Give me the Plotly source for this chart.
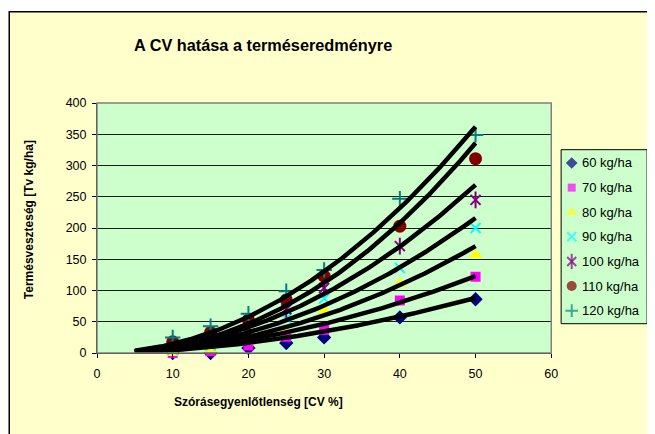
import numpy as np
import plotly.graph_objects as go

# ---------------- data ----------------
cv_values = [10, 15, 20, 25, 30, 40, 50]
series_names = ["60 kg/ha", "70 kg/ha", "80 kg/ha", "90 kg/ha", "100 kg/ha", "110 kg/ha", "120 kg/ha"]
loss_60 = [0, 0, 8, 16, 25, 57, 86]
loss_70 = [0, 3, 12, 26, 37, 84, 122]
loss_80 = [0, 6, 18, 36, 68, 111, 157]
loss_90 = [5, 12, 28, 55, 87, 136, 200]
loss_100 = [12, 22, 40, 70, 104, 171, 245]
loss_110 = [18, 33, 53, 85, 123, 203, 311]
loss_120 = [25, 43, 63, 99, 133, 247, 349]
all_losses = [loss_60, loss_70, loss_80, loss_90, loss_100, loss_110, loss_120]

# power trendlines y = value_at_50 * (x/50)^exponent, drawn from CV 5 to 50
trend_value_at_50 = [88, 123, 171, 216, 269, 336, 362]
trend_exponent = [1.85, 1.9, 2.05, 2.05, 2.05, 2.15, 2.0]
trend_start, trend_end = 5, 50

x_ticks = [0, 10, 20, 30, 40, 50, 60]
y_ticks = [0, 50, 100, 150, 200, 250, 300, 350, 400]

# ---------------- styles ----------------
colors = ["#000080", "#FF00FF", "#FFFF00", "#00FFFF", "#800080", "#800000", "#008080"]
symbols = ["diamond", "square", "triangle-up", "x-thin-open", "x-thin-open", "circle", "cross-thin-open"]
extra_symbols = [None, None, None, None, "line-ns-open", None, None]
sizes = [11, 10, 12, 10, 10, 13, 11]
line_w = [0, 0, 0, 2, 2, 0, 2]
leg_sizes = [9, 8, 10, 9, 9, 10, 9]

FONT = "Liberation Sans, Arial, sans-serif"
W, H = 655, 434
OFF = 8  # page offset of the figure (body margin)
ML, MR = 89.3, 0
MT = 95.3
MB = H - (353.3 - OFF)
PW = W - ML - MR
PH = H - MT - MB


def xp(px):  # page pixel x -> paper
    return (px - OFF - ML) / PW


def yp(py):  # page pixel y -> paper
    return (H - MB - (py - OFF)) / PH


fig = go.Figure()

for i, name in enumerate(series_names):
    fig.add_trace(go.Scatter(
        x=cv_values, y=all_losses[i], mode="markers", name=name, showlegend=False,
        marker=dict(symbol=symbols[i], size=sizes[i], color=colors[i],
                    line=dict(color=colors[i], width=line_w[i])),
        xaxis="x", yaxis="y", cliponaxis=False,
    ))
    if extra_symbols[i]:
        fig.add_trace(go.Scatter(
            x=cv_values, y=all_losses[i], mode="markers", showlegend=False, hoverinfo="skip",
            marker=dict(symbol=extra_symbols[i], size=sizes[i] + 2, color=colors[i],
                        line=dict(color=colors[i], width=line_w[i])),
            xaxis="x", yaxis="y", cliponaxis=False,
        ))

xs = np.linspace(trend_start, trend_end, 200)
for i, name in enumerate(series_names):
    ys = trend_value_at_50[i] * (xs / 50.0) ** trend_exponent[i]
    fig.add_trace(go.Scatter(
        x=xs, y=ys, mode="lines", showlegend=False, hoverinfo="skip",
        line=dict(color="black", width=4.5),
        xaxis="x", yaxis="y",
    ))

# custom legend markers
rows = list(range(len(series_names)))
fig.add_trace(go.Scatter(
    x=[10.7] * len(rows), y=rows, mode="markers", showlegend=False, hoverinfo="skip",
    marker=dict(symbol=symbols, size=leg_sizes, color=colors,
                line=dict(color=colors, width=[w if w == 0 else 2 for w in line_w])),
    xaxis="x2", yaxis="y2", cliponaxis=False,
))
extra_rows = [r for r in rows if extra_symbols[r]]
fig.add_trace(go.Scatter(
    x=[10.7] * len(extra_rows), y=extra_rows, mode="markers", showlegend=False, hoverinfo="skip",
    marker=dict(symbol=[extra_symbols[r] for r in extra_rows],
                size=[leg_sizes[r] + 2 for r in extra_rows],
                color=[colors[r] for r in extra_rows],
                line=dict(color=[colors[r] for r in extra_rows], width=2)),
    xaxis="x2", yaxis="y2", cliponaxis=False,
))

annotations = []
for i, name in enumerate(series_names):
    annotations.append(dict(x=19, y=i, xref="x2", yref="y2", text=name, showarrow=False,
                            xanchor="left", yanchor="middle",
                            font=dict(family=FONT, size=13, color="black")))

annotations += [
    dict(x=xp(265), y=yp(45), xref="paper", yref="paper", showarrow=False,
         text="<b>A CV hatása a terméseredményre</b>", xanchor="center", yanchor="middle",
         font=dict(family=FONT, size=16.3, color="black")),
    dict(x=xp(261), y=yp(402), xref="paper", yref="paper", showarrow=False,
         text="<b>Szórásegyenlőtlenség [CV %]</b>", xanchor="center", yanchor="middle",
         font=dict(family=FONT, size=12, color="black")),
    dict(x=xp(28), y=yp(220), xref="paper", yref="paper", showarrow=False, textangle=-90,
         text="<b>Termésveszteség [Tv kg/ha]</b>", xanchor="center", yanchor="middle",
         font=dict(family=FONT, size=12, color="black")),
]

shapes = [
    # white strip above the chart border
    dict(type="rect", xref="paper", yref="paper", x0=xp(0), x1=xp(700), y0=yp(12), y1=yp(0),
         line=dict(width=0), fillcolor="white", layer="below"),
    # plot area border
    dict(type="rect", xref="paper", yref="paper", x0=0, x1=xp(557), y0=0, y1=1,
         line=dict(color="#808080", width=1.5)),
    # legend box
    dict(type="rect", xref="paper", yref="paper", x0=xp(567), x1=xp(654), y0=yp(324), y1=yp(150),
         line=dict(color="black", width=1)),
    # outer chart border (extends beyond the window)
    dict(type="rect", xref="paper", yref="paper", x0=xp(8.5), x1=xp(720), y0=yp(520), y1=yp(12),
         line=dict(color="black", width=1.5)),
]

fig.update_layout(
    width=W, height=H,
    margin=dict(l=ML, r=MR, t=MT, b=MB, pad=0),
    paper_bgcolor="#FFFFCC", plot_bgcolor="#CCFFCC",
    showlegend=False,
    font=dict(family=FONT, size=12, color="black"),
    xaxis=dict(domain=[0, xp(557)], range=[0, 60], tickvals=x_ticks, showgrid=False, zeroline=False,
               ticks="outside", ticklen=4, tickcolor="black", showline=True, linecolor="black",
               linewidth=1, tickfont=dict(family=FONT, size=12.5), ticklabelstandoff=5,
               fixedrange=True),
    yaxis=dict(domain=[0, 1], range=[0, 400], tickvals=y_ticks, showgrid=True, gridcolor="#1a1a1a",
               gridwidth=1, zeroline=False, ticks="outside", ticklen=4, tickcolor="black",
               showline=True, linecolor="black", linewidth=1, tickfont=dict(family=FONT, size=12.5),
               ticklabelstandoff=3, fixedrange=True),
    xaxis2=dict(domain=[xp(567), xp(654)], range=[0, 87], visible=False, fixedrange=True, anchor="y2"),
    yaxis2=dict(domain=[yp(324), yp(150)], range=[6.53, -0.54], visible=False, fixedrange=True, anchor="x2"),
    annotations=annotations,
    shapes=shapes,
)

fig.write_html("out.html")
